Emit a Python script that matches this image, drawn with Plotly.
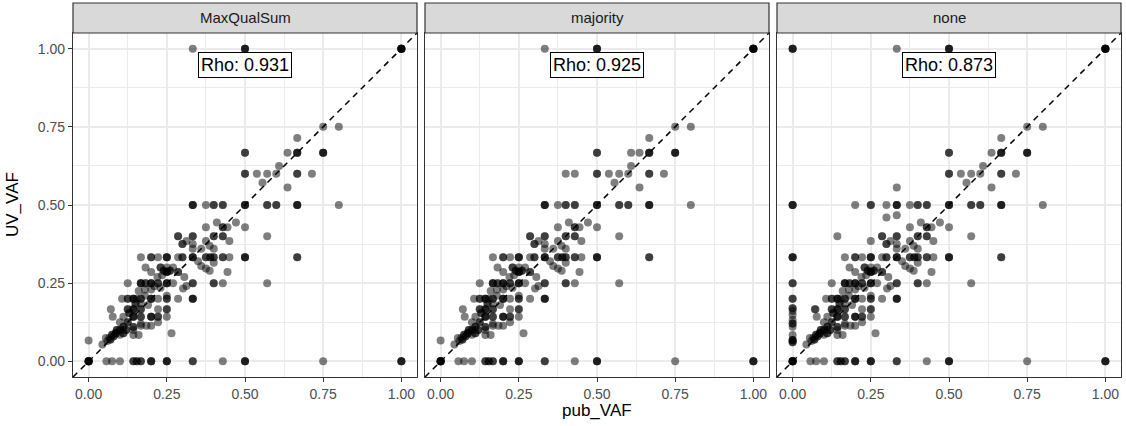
import plotly.graph_objects as go

# ---------------- data (pub_VAF, UV_VAF, number of overlapping variants) ----------------
panel_names = ["MaxQualSum", "majority", "none"]
rho_labels = ["Rho: 0.931", "Rho: 0.925", "Rho: 0.873"]
tick_vals = [0.0, 0.25, 0.5, 0.75, 1.0]
tick_text = ["0.00", "0.25", "0.50", "0.75", "1.00"]

shared_points = [
    (0.333, 1.0, 1), (0.5, 1.0, 3), (1.0, 1.0, 6),
    (0.75, 0.75, 1), (0.8, 0.75, 1), (0.667, 0.714, 1),
    (0.5, 0.667, 2), (0.636, 0.667, 1), (0.667, 0.667, 3), (0.75, 0.667, 3),
    (0.609, 0.625, 1),
    (0.5, 0.6, 2), (0.538, 0.6, 1), (0.571, 0.6, 1), (0.6, 0.6, 1), (0.667, 0.6, 2), (0.714, 0.6, 1),
    (0.556, 0.571, 1), (0.636, 0.556, 1),
    (0.333, 0.5, 3), (0.375, 0.5, 1), (0.4, 0.5, 2), (0.429, 0.5, 2), (0.5, 0.5, 3),
    (0.571, 0.5, 2), (0.6, 0.5, 2), (0.667, 0.5, 3), (0.8, 0.5, 1),
    (0.41, 0.444, 1), (0.471, 0.444, 1),
    (0.375, 0.429, 1), (0.429, 0.429, 2), (0.444, 0.429, 1), (0.5, 0.429, 1),
    (0.286, 0.4, 2), (0.333, 0.4, 2), (0.4, 0.4, 2), (0.429, 0.4, 2), (0.571, 0.4, 1),
    (0.313, 0.385, 1), (0.375, 0.385, 1), (0.45, 0.385, 1),
    (0.3, 0.375, 2), (0.333, 0.375, 1), (0.387, 0.37, 1),
    (0.36, 0.36, 1), (0.4, 0.36, 1), (0.333, 0.36, 1),
    (0.167, 0.333, 1), (0.2, 0.333, 2), (0.222, 0.333, 1), (0.25, 0.333, 3), (0.286, 0.333, 1),
    (0.3, 0.333, 2), (0.333, 0.333, 3), (0.375, 0.333, 2), (0.389, 0.333, 2), (0.4, 0.333, 2),
    (0.429, 0.333, 2), (0.45, 0.333, 1), (0.5, 0.333, 3), (0.667, 0.333, 2),
    (0.35, 0.32, 1), (0.36, 0.305, 1), (0.375, 0.297, 1), (0.387, 0.29, 1), (0.4, 0.315, 1),
    (0.444, 0.286, 1), (0.306, 0.27, 1), (0.286, 0.286, 2),
    (0.182, 0.3, 1), (0.23, 0.3, 2), (0.24, 0.29, 2), (0.25, 0.286, 3), (0.26, 0.29, 2),
    (0.2, 0.286, 1), (0.22, 0.27, 1), (0.27, 0.3, 1), (0.25, 0.3, 1), (0.235, 0.275, 1),
    (0.313, 0.241, 1), (0.302, 0.233, 1),
    (0.125, 0.25, 1), (0.167, 0.25, 3), (0.182, 0.25, 2), (0.2, 0.25, 3), (0.222, 0.25, 2),
    (0.25, 0.25, 3), (0.27, 0.25, 1), (0.333, 0.25, 2), (0.4, 0.25, 2), (0.429, 0.25, 1), (0.571, 0.25, 1),
    (0.2, 0.23, 1), (0.23, 0.235, 1), (0.18, 0.23, 1), (0.16, 0.225, 1), (0.21, 0.24, 1),
    (0.286, 0.2, 1), (0.333, 0.2, 3),
    (0.107, 0.2, 1), (0.125, 0.2, 2), (0.143, 0.2, 3), (0.154, 0.2, 1), (0.167, 0.2, 2),
    (0.2, 0.2, 3), (0.222, 0.2, 1), (0.25, 0.2, 2),
    (0.25, 0.21, 1), (0.18, 0.21, 1), (0.15, 0.185, 2), (0.19, 0.18, 1), (0.167, 0.185, 1),
    (0.071, 0.167, 1), (0.125, 0.167, 2), (0.143, 0.167, 3), (0.167, 0.167, 2), (0.25, 0.167, 2), (0.222, 0.167, 1),
    (0.077, 0.143, 1), (0.111, 0.143, 1), (0.2, 0.143, 3), (0.222, 0.143, 2), (0.25, 0.143, 1),
    (0.167, 0.143, 2), (0.143, 0.143, 3), (0.13, 0.155, 2),
    (0.1, 0.125, 1), (0.125, 0.125, 2), (0.222, 0.125, 1), (0.167, 0.12, 1),
    (0.167, 0.114, 1), (0.185, 0.114, 1), (0.2, 0.114, 1), (0.143, 0.11, 2), (0.111, 0.111, 2),
    (0.09, 0.1, 2), (0.1, 0.1, 2), (0.12, 0.1, 2), (0.143, 0.1, 1),
    (0.087, 0.09, 3), (0.075, 0.085, 2), (0.1, 0.085, 1), (0.143, 0.084, 1), (0.16, 0.084, 1),
    (0.265, 0.09, 1), (0.111, 0.09, 2),
    (0.066, 0.075, 1), (0.055, 0.075, 1), (0.044, 0.054, 1), (0.0, 0.0667, 1),
    (0.07, 0.07, 2), (0.08, 0.08, 2), (0.06, 0.065, 1),
    (0.0, 0.0, 6), (0.057, 0.0, 1), (0.075, 0.0, 1), (0.1, 0.0, 1), (0.143, 0.0, 2), (0.154, 0.0, 2),
    (0.167, 0.0, 2), (0.2, 0.0, 3), (0.25, 0.0, 3), (0.333, 0.0, 2), (0.429, 0.0, 1),
    (0.5, 0.0, 3), (0.75, 0.0, 1), (1.0, 0.0, 3),
]

majority_extra = [(0.4, 0.6, 1), (0.429, 0.6, 1), (0.609, 0.667, 1)]

none_extra = [
    (0.0, 1.0, 3), (0.0, 0.5, 3), (0.2, 0.5, 1), (0.25, 0.5, 2), (0.3, 0.5, 1),
    (0.333, 0.556, 1), (0.3, 0.46, 1), (0.333, 0.467, 1), (0.143, 0.4, 1), (0.25, 0.385, 1),
    (0.0, 0.333, 3), (0.0, 0.25, 2), (0.0, 0.2, 2), (0.0, 0.17, 2), (0.0, 0.161, 1),
    (0.0, 0.148, 1), (0.0, 0.132, 1), (0.0, 0.121, 2), (0.0, 0.111, 1), (0.0, 0.084, 1),
    (0.0, 0.068, 2), (0.0, 0.061, 2), (0.073, 0.167, 1),
]

panel_points = [shared_points, shared_points + majority_extra, shared_points + none_extra]

# ---------------- figure ----------------
W, H = 1126, 426
FONT = "Liberation Sans, Arial, sans-serif"


def fx(p):
    return p / W


def fy(p):
    return 1 - p / H


x_px = [(73, 417), (425, 769), (777, 1121)]
y_top, y_bot = 33, 377

fig = go.Figure()
layout = dict(
    width=W, height=H, margin=dict(l=0, r=0, t=0, b=0),
    paper_bgcolor="white", plot_bgcolor="white", showlegend=False,
    font=dict(family=FONT),
)
shapes = []
annotations = []
minor_grid = dict(tickvals=[0.125, 0.375, 0.625, 0.875], showgrid=True,
                  gridcolor="#EBEBEB", gridwidth=0.9, ticks="")

for i, pts in enumerate(panel_points):
    sfx = "" if i == 0 else str(i + 1)
    xs, ys = [], []
    for (px_, uv, n) in pts:
        xs += [px_] * n
        ys += [uv] * n
    fig.add_trace(go.Scatter(
        x=[-0.05, 1.05], y=[-0.05, 1.05], mode="lines",
        line=dict(color="black", width=1.5, dash="6px,5px"),
        xaxis="x" + sfx, yaxis="y" + sfx, hoverinfo="skip",
    ))
    fig.add_trace(go.Scatter(
        x=xs, y=ys, mode="markers",
        marker=dict(color="black", opacity=0.5, size=8, line=dict(width=0)),
        xaxis="x" + sfx, yaxis="y" + sfx,
    ))
    ax = dict(
        domain=[fx(x_px[i][0]), fx(x_px[i][1])], range=[-0.05, 1.05],
        tickvals=tick_vals, ticktext=tick_text, ticks="outside", ticklen=4,
        tickcolor="#333333", tickwidth=1,
        tickfont=dict(size=14, color="#4D4D4D", family=FONT),
        showgrid=True, gridcolor="#EBEBEB", gridwidth=1.8, minor=minor_grid,
        zeroline=False, showline=True, mirror=True, linecolor="#333333", linewidth=1.2,
        anchor="y" + sfx, fixedrange=True,
    )
    ay = dict(
        domain=[fy(y_bot), fy(y_top)], range=[-0.05, 1.05],
        tickvals=tick_vals, ticktext=tick_text,
        ticks="outside" if i == 0 else "", ticklen=4, tickcolor="#333333", tickwidth=1,
        showticklabels=(i == 0),
        tickfont=dict(size=14, color="#4D4D4D", family=FONT),
        showgrid=True, gridcolor="#EBEBEB", gridwidth=1.8, minor=minor_grid,
        zeroline=False, showline=True, mirror=True, linecolor="#333333", linewidth=1.2,
        anchor="x" + sfx, fixedrange=True,
    )
    layout["xaxis" + sfx] = ax
    layout["yaxis" + sfx] = ay

    # facet strip
    shapes.append(dict(
        type="rect", xref="paper", yref="paper",
        x0=fx(x_px[i][0]), x1=fx(x_px[i][1]), y0=fy(y_top), y1=fy(3),
        fillcolor="#D9D9D9", line=dict(color="#333333", width=1.2), layer="above",
    ))
    annotations.append(dict(
        text=panel_names[i], xref="paper", yref="paper",
        x=fx((x_px[i][0] + x_px[i][1]) / 2), y=fy(18), showarrow=False,
        xanchor="center", yanchor="middle",
        font=dict(size=15, color="#1A1A1A", family=FONT),
    ))
    # Rho label
    annotations.append(dict(
        text=rho_labels[i], xref="x" + sfx, yref="y" + sfx, x=0.5, y=0.948,
        showarrow=False, xanchor="center", yanchor="middle",
        font=dict(size=18, color="black", family=FONT),
        bgcolor="white", bordercolor="black", borderwidth=1, borderpad=2,
    ))

annotations.append(dict(
    text="pub_VAF", xref="paper", yref="paper", x=fx(597), y=fy(410),
    showarrow=False, xanchor="center", yanchor="middle",
    font=dict(size=17, color="black", family=FONT),
))
annotations.append(dict(
    text="UV_VAF", xref="paper", yref="paper", x=fx(13), y=fy(205),
    showarrow=False, xanchor="center", yanchor="middle", textangle=-90,
    font=dict(size=17, color="black", family=FONT),
))

layout["shapes"] = shapes
layout["annotations"] = annotations
fig.update_layout(**layout)
fig.write_html("out.html")
